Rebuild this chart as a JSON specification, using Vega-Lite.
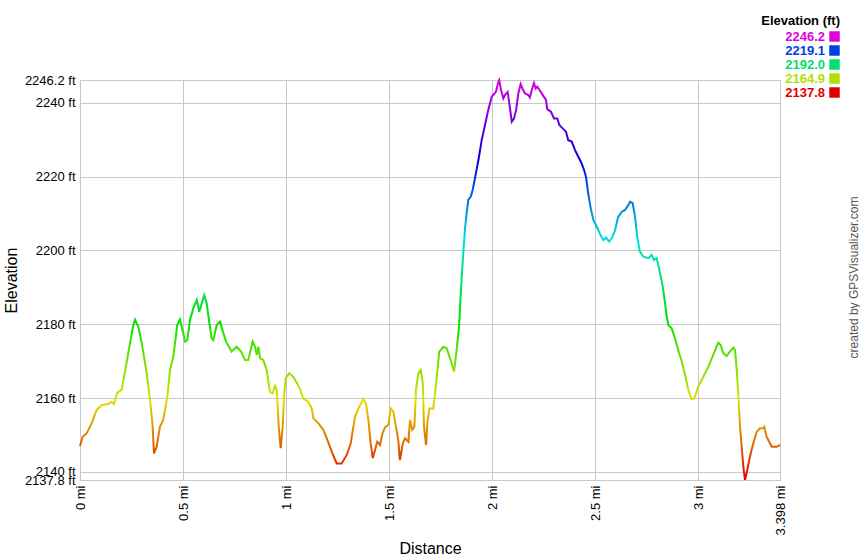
{
  "$schema": "https://vega.github.io/schema/vega-lite/v6.json",
  "width": 700,
  "height": 400,
  "autosize": {"type": "none"},
  "padding": {"left": 80, "top": 80, "right": 80, "bottom": 80},
  "background": "white",
  "config": {
    "font": "Liberation Sans",
    "view": {"stroke": "#c8c8c8", "strokeWidth": 1},
    "axis": {
      "gridColor": "#c8c8c8",
      "gridWidth": 1,
      "gridOpacity": 1,
      "domain": false,
      "ticks": false,
      "labelFont": "Liberation Sans",
      "labelFontSize": 13,
      "labelColor": "#000000",
      "labelPadding": 5,
      "labelFlush": false,
      "labelOverlap": false,
      "titleFont": "Liberation Sans",
      "titleFontSize": 16,
      "titleFontWeight": "normal",
      "titleColor": "#000000"
    }
  },
  "resolve": {"axis": {"y": "independent"}},
  "layer": [
    {
      "data": {
        "values": [
          {"d": 0.000, "e": 2147.0}, {"d": 0.013, "e": 2149.5}, {"d": 0.033, "e": 2150.5}, {"d": 0.057, "e": 2153.2},
          {"d": 0.081, "e": 2156.8}, {"d": 0.105, "e": 2158.1}, {"d": 0.137, "e": 2158.4}, {"d": 0.154, "e": 2159.0},
          {"d": 0.165, "e": 2158.4}, {"d": 0.181, "e": 2161.5}, {"d": 0.202, "e": 2162.2}, {"d": 0.214, "e": 2165.8},
          {"d": 0.234, "e": 2172.1}, {"d": 0.259, "e": 2179.8}, {"d": 0.267, "e": 2181.2}, {"d": 0.283, "e": 2179.3},
          {"d": 0.300, "e": 2174.8}, {"d": 0.324, "e": 2166.7}, {"d": 0.340, "e": 2159.5}, {"d": 0.353, "e": 2152.2},
          {"d": 0.359, "e": 2145.0}, {"d": 0.372, "e": 2146.8}, {"d": 0.388, "e": 2152.2}, {"d": 0.404, "e": 2154.1},
          {"d": 0.424, "e": 2160.4}, {"d": 0.437, "e": 2167.6}, {"d": 0.453, "e": 2171.2}, {"d": 0.472, "e": 2179.8},
          {"d": 0.485, "e": 2181.3}, {"d": 0.494, "e": 2179.3}, {"d": 0.510, "e": 2175.3}, {"d": 0.521, "e": 2175.7},
          {"d": 0.534, "e": 2181.2}, {"d": 0.550, "e": 2184.3}, {"d": 0.567, "e": 2186.6}, {"d": 0.579, "e": 2183.4},
          {"d": 0.591, "e": 2185.7}, {"d": 0.603, "e": 2187.9}, {"d": 0.615, "e": 2185.7}, {"d": 0.628, "e": 2180.3},
          {"d": 0.639, "e": 2176.2}, {"d": 0.647, "e": 2175.7}, {"d": 0.664, "e": 2179.8}, {"d": 0.680, "e": 2180.7},
          {"d": 0.696, "e": 2177.6}, {"d": 0.709, "e": 2175.3}, {"d": 0.736, "e": 2172.6}, {"d": 0.761, "e": 2173.9},
          {"d": 0.782, "e": 2172.6}, {"d": 0.801, "e": 2170.3}, {"d": 0.817, "e": 2170.3}, {"d": 0.838, "e": 2175.3},
          {"d": 0.850, "e": 2173.9}, {"d": 0.858, "e": 2171.7}, {"d": 0.866, "e": 2173.9}, {"d": 0.874, "e": 2170.8},
          {"d": 0.890, "e": 2170.3}, {"d": 0.906, "e": 2167.6}, {"d": 0.922, "e": 2161.7}, {"d": 0.935, "e": 2161.3},
          {"d": 0.947, "e": 2163.3}, {"d": 0.955, "e": 2162.2}, {"d": 0.965, "e": 2152.2}, {"d": 0.974, "e": 2146.4},
          {"d": 0.984, "e": 2152.2}, {"d": 0.990, "e": 2160.4}, {"d": 0.999, "e": 2165.5}, {"d": 1.016, "e": 2166.7},
          {"d": 1.035, "e": 2165.8}, {"d": 1.049, "e": 2164.4}, {"d": 1.068, "e": 2162.5}, {"d": 1.084, "e": 2159.9},
          {"d": 1.108, "e": 2159.0}, {"d": 1.125, "e": 2157.2}, {"d": 1.133, "e": 2154.5}, {"d": 1.157, "e": 2153.2},
          {"d": 1.181, "e": 2151.4}, {"d": 1.198, "e": 2149.1}, {"d": 1.222, "e": 2145.5}, {"d": 1.246, "e": 2142.3},
          {"d": 1.270, "e": 2142.3}, {"d": 1.295, "e": 2144.6}, {"d": 1.314, "e": 2147.7}, {"d": 1.335, "e": 2155.0},
          {"d": 1.356, "e": 2157.7}, {"d": 1.375, "e": 2159.7}, {"d": 1.388, "e": 2158.6}, {"d": 1.400, "e": 2154.1},
          {"d": 1.411, "e": 2147.7}, {"d": 1.421, "e": 2143.7}, {"d": 1.432, "e": 2145.9}, {"d": 1.443, "e": 2148.2},
          {"d": 1.456, "e": 2147.3}, {"d": 1.469, "e": 2150.5}, {"d": 1.481, "e": 2152.1}, {"d": 1.497, "e": 2152.7},
          {"d": 1.508, "e": 2157.2}, {"d": 1.521, "e": 2156.3}, {"d": 1.534, "e": 2152.2}, {"d": 1.545, "e": 2148.6},
          {"d": 1.553, "e": 2143.2}, {"d": 1.567, "e": 2147.7}, {"d": 1.578, "e": 2149.1}, {"d": 1.594, "e": 2148.2},
          {"d": 1.602, "e": 2154.1}, {"d": 1.613, "e": 2151.4}, {"d": 1.623, "e": 2152.2}, {"d": 1.631, "e": 2162.2},
          {"d": 1.642, "e": 2166.7}, {"d": 1.654, "e": 2167.6}, {"d": 1.664, "e": 2164.0}, {"d": 1.670, "e": 2152.2},
          {"d": 1.680, "e": 2147.3}, {"d": 1.686, "e": 2153.2}, {"d": 1.696, "e": 2157.2}, {"d": 1.715, "e": 2157.2},
          {"d": 1.728, "e": 2163.5}, {"d": 1.744, "e": 2172.6}, {"d": 1.764, "e": 2173.9}, {"d": 1.780, "e": 2173.5},
          {"d": 1.796, "e": 2170.8}, {"d": 1.816, "e": 2167.2}, {"d": 1.829, "e": 2173.5}, {"d": 1.840, "e": 2179.3},
          {"d": 1.845, "e": 2184.8}, {"d": 1.853, "e": 2192.9}, {"d": 1.861, "e": 2199.7}, {"d": 1.869, "e": 2206.0},
          {"d": 1.877, "e": 2210.1}, {"d": 1.885, "e": 2213.7}, {"d": 1.897, "e": 2214.6}, {"d": 1.906, "e": 2216.4},
          {"d": 1.917, "e": 2219.5}, {"d": 1.934, "e": 2224.5}, {"d": 1.950, "e": 2229.9}, {"d": 1.966, "e": 2234.0},
          {"d": 1.982, "e": 2238.1}, {"d": 1.999, "e": 2241.7}, {"d": 2.010, "e": 2242.4}, {"d": 2.019, "e": 2243.0},
          {"d": 2.031, "e": 2245.7}, {"d": 2.035, "e": 2246.2}, {"d": 2.044, "e": 2243.5}, {"d": 2.055, "e": 2241.2},
          {"d": 2.063, "e": 2242.1}, {"d": 2.076, "e": 2243.0}, {"d": 2.084, "e": 2239.9}, {"d": 2.096, "e": 2234.9},
          {"d": 2.107, "e": 2235.8}, {"d": 2.117, "e": 2238.1}, {"d": 2.128, "e": 2242.6}, {"d": 2.139, "e": 2245.1},
          {"d": 2.149, "e": 2243.7}, {"d": 2.160, "e": 2242.6}, {"d": 2.176, "e": 2242.1}, {"d": 2.184, "e": 2241.5},
          {"d": 2.193, "e": 2243.5}, {"d": 2.204, "e": 2245.4}, {"d": 2.212, "e": 2243.9}, {"d": 2.220, "e": 2244.4},
          {"d": 2.233, "e": 2243.3}, {"d": 2.249, "e": 2241.9}, {"d": 2.262, "e": 2240.8}, {"d": 2.268, "e": 2238.3},
          {"d": 2.286, "e": 2237.6}, {"d": 2.301, "e": 2235.8}, {"d": 2.317, "e": 2235.8}, {"d": 2.327, "e": 2234.0},
          {"d": 2.343, "e": 2233.1}, {"d": 2.359, "e": 2232.2}, {"d": 2.370, "e": 2229.9}, {"d": 2.387, "e": 2229.5},
          {"d": 2.403, "e": 2227.2}, {"d": 2.419, "e": 2225.4}, {"d": 2.435, "e": 2223.6}, {"d": 2.447, "e": 2221.8},
          {"d": 2.456, "e": 2220.0}, {"d": 2.467, "e": 2215.5}, {"d": 2.479, "e": 2211.5}, {"d": 2.492, "e": 2208.3},
          {"d": 2.508, "e": 2206.5}, {"d": 2.524, "e": 2204.5}, {"d": 2.540, "e": 2202.8}, {"d": 2.553, "e": 2203.5},
          {"d": 2.569, "e": 2202.4}, {"d": 2.581, "e": 2203.3}, {"d": 2.597, "e": 2205.4}, {"d": 2.612, "e": 2209.0},
          {"d": 2.630, "e": 2210.5}, {"d": 2.646, "e": 2211.0}, {"d": 2.662, "e": 2212.3}, {"d": 2.670, "e": 2213.2},
          {"d": 2.683, "e": 2212.8}, {"d": 2.694, "e": 2209.2}, {"d": 2.705, "e": 2203.7}, {"d": 2.718, "e": 2199.7},
          {"d": 2.735, "e": 2198.3}, {"d": 2.759, "e": 2197.9}, {"d": 2.775, "e": 2198.8}, {"d": 2.786, "e": 2197.4},
          {"d": 2.800, "e": 2197.9}, {"d": 2.816, "e": 2193.8}, {"d": 2.829, "e": 2190.2}, {"d": 2.840, "e": 2185.7},
          {"d": 2.848, "e": 2182.1}, {"d": 2.856, "e": 2179.8}, {"d": 2.872, "e": 2178.9}, {"d": 2.888, "e": 2176.2},
          {"d": 2.904, "e": 2173.0}, {"d": 2.921, "e": 2169.9}, {"d": 2.937, "e": 2166.3}, {"d": 2.953, "e": 2162.2},
          {"d": 2.969, "e": 2159.7}, {"d": 2.982, "e": 2159.9}, {"d": 3.001, "e": 2163.1}, {"d": 3.026, "e": 2165.8},
          {"d": 3.050, "e": 2168.5}, {"d": 3.074, "e": 2171.7}, {"d": 3.098, "e": 2175.0}, {"d": 3.110, "e": 2174.4},
          {"d": 3.123, "e": 2172.1}, {"d": 3.139, "e": 2171.4}, {"d": 3.155, "e": 2172.6}, {"d": 3.171, "e": 2173.7},
          {"d": 3.180, "e": 2173.0}, {"d": 3.188, "e": 2167.6}, {"d": 3.196, "e": 2160.4}, {"d": 3.204, "e": 2152.2},
          {"d": 3.212, "e": 2146.8}, {"d": 3.220, "e": 2141.4}, {"d": 3.228, "e": 2137.8}, {"d": 3.239, "e": 2140.5},
          {"d": 3.252, "e": 2144.1}, {"d": 3.268, "e": 2147.7}, {"d": 3.285, "e": 2150.9}, {"d": 3.301, "e": 2151.8},
          {"d": 3.317, "e": 2151.8}, {"d": 3.322, "e": 2152.2}, {"d": 3.333, "e": 2149.5}, {"d": 3.358, "e": 2146.8},
          {"d": 3.382, "e": 2146.8}, {"d": 3.398, "e": 2147.3}
        ]
      },
      "mark": {
        "type": "line",
        "strokeWidth": 2,
        "color": {
          "gradient": "linear",
          "x1": 0, "y1": 1, "x2": 0, "y2": 0,
          "stops": [
            {"offset": 0.0, "color": "#e00000"},
            {"offset": 0.1, "color": "#e07000"},
            {"offset": 0.2, "color": "#e0e000"},
            {"offset": 0.3, "color": "#70e000"},
            {"offset": 0.4, "color": "#00e000"},
            {"offset": 0.5, "color": "#00e070"},
            {"offset": 0.6, "color": "#00e0e0"},
            {"offset": 0.7, "color": "#0070e0"},
            {"offset": 0.8, "color": "#0000e0"},
            {"offset": 0.9, "color": "#7000e0"},
            {"offset": 1.0, "color": "#e000e0"}
          ]
        }
      },
      "encoding": {
        "x": {
          "field": "d",
          "type": "quantitative",
          "scale": {"domain": [0, 3.398], "nice": false, "zero": false},
          "axis": {
            "title": "Distance",
            "values": [0, 0.5, 1, 1.5, 2, 2.5, 3, 3.398],
            "labelExpr": "datum.value + ' mi'",
            "labelAngle": 270,
            "labelAlign": "right",
            "labelBaseline": "middle",
            "grid": true,
            "titleX": 350,
            "titleY": 68,
            "titleBaseline": "middle",
            "titleAlign": "center"
          }
        },
        "y": {
          "field": "e",
          "type": "quantitative",
          "scale": {"domain": [2137.8, 2246.2], "nice": false, "zero": false},
          "axis": {
            "title": "Elevation",
            "values": [2137.8, 2140, 2160, 2180, 2200, 2220, 2240, 2246.2],
            "labelExpr": "datum.value + ' ft'",
            "grid": true,
            "titleX": -69,
            "titleY": 200,
            "titleAngle": 270,
            "titleAlign": "center",
            "titleBaseline": "middle"
          }
        }
      }
    },
    {
      "data": {
        "values": [
          {"label": "2246.2", "e": 2246.2},
          {"label": "2219.1", "e": 2219.1},
          {"label": "2192.0", "e": 2192.0},
          {"label": "2164.9", "e": 2164.9},
          {"label": "2137.8", "e": 2137.8}
        ]
      },
      "mark": {"type": "point", "shape": "square", "filled": true, "clip": true},
      "encoding": {
        "x": {"datum": -1, "type": "quantitative"},
        "y": {
          "field": "e",
          "type": "quantitative",
          "axis": {
            "orient": "right",
            "title": "created by GPSVisualizer.com",
            "labels": false,
            "grid": false,
            "titleFontSize": 12,
            "titleColor": "#555555",
            "titleX": 73,
            "titleY": 197,
            "titleAngle": 270,
            "titleAlign": "center",
            "titleBaseline": "middle"
          }
        },
        "color": {
          "field": "label",
          "type": "nominal",
          "scale": {
            "domain": ["2246.2", "2219.1", "2192.0", "2164.9", "2137.8"],
            "range": ["#e000e0", "#0040e0", "#00e070", "#b0e000", "#e00000"]
          },
          "legend": {
            "orient": "none",
            "legendX": 681,
            "legendY": -65,
            "padding": 0,
            "title": "Elevation (ft)",
            "titleFontSize": 13,
            "titleFontWeight": "bold",
            "titleColor": "#000000",
            "titleAnchor": "end",
            "titlePadding": 2,
            "labelFontSize": 13,
            "labelFontWeight": "bold",
            "labelAlign": "right",
            "labelOffset": -16,
            "symbolType": "square",
            "symbolSize": 110,
            "symbolOpacity": 1,
            "symbolStrokeWidth": 0,
            "rowPadding": -0.75,
            "encode": {
              "labels": {"update": {"fill": {"scale": "color", "field": "value"}}}
            }
          }
        }
      }
    }
  ]
}
